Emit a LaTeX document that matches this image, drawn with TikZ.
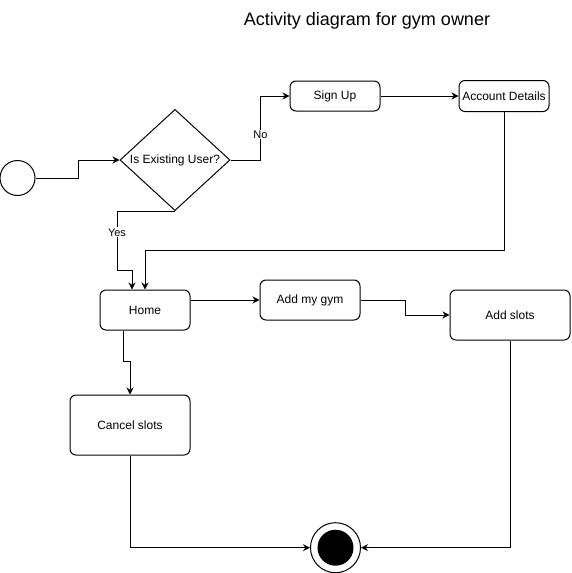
\documentclass[tikz,border=0pt]{standalone}
\usepackage{fontspec}
\setmainfont{Liberation Sans}
\usetikzlibrary{shapes.geometric,arrows.meta}
\begin{document}
\begin{tikzpicture}[x=1pt,y=1pt,
  every node/.style={font=\fontsize{12}{14}\selectfont},
  box/.style={draw,rounded corners=6pt,line width=1pt,inner sep=0pt,align=center},
  arr/.style={draw,line width=1pt,-{Stealth[length=7pt,width=7pt]}},
  lbl/.style={fill=white,inner sep=1pt,font=\fontsize{11}{13}\selectfont}]
\useasboundingbox (0,0) rectangle (571,-573);
\node[font=\fontsize{18}{21}\selectfont] (title) at (367,-21) {Activity diagram for gym owner};
\node[draw,circle,line width=1pt,minimum size=35pt,inner sep=0pt] (start) at (17.5,-178) {};
\node[draw,diamond,line width=1pt,inner sep=0pt,minimum width=110pt,minimum height=100pt] (dec) at (175,-160) {Is Existing User?};
\node[box,minimum width=90pt,minimum height=30pt] (signup) at (335,-96) {Sign Up};
\node[box,minimum width=90pt,minimum height=31pt] (acct) at (504,-96) {Account Details};
\node[box,minimum width=90pt,minimum height=40pt] (home) at (145,-310) {Home};
\node[box,minimum width=100pt,minimum height=40pt] (gym) at (310,-300) {Add my gym};
\node[box,minimum width=120pt,minimum height=50pt] (slots) at (510,-315) {Add slots};
\node[box,minimum width=120pt,minimum height=60pt] (cancel) at (130,-425) {Cancel slots};
\node[draw,circle,line width=1pt,minimum size=50pt,inner sep=0pt] (end) at (335.5,-547.7) {};
\node[circle,fill=black,minimum size=36pt,inner sep=0pt] (endin) at (end.center) {};

\draw[arr] (start.east) -- ++(43,0) |- (dec.west);
\draw[arr] (dec.east) -- ++(30,0) |- node[lbl,pos=0.2] (no) {No} (signup.west);
\draw[arr] (signup.east) -- (acct.west);
\draw[arr] (acct.south) -- ++(0,-138) -| (home.north);
\draw[arr] (dec.south) -| (117,-270) node[lbl,pos=0.68] (yes) {Yes} -| ([xshift=-13pt]home.north);
\draw[arr] (home.east |- gym.west) -- (gym.west);
\draw[arr] (gym.east) -- ++(45,0) |- (slots.west);
\draw[arr] ([xshift=-22pt]home.south) -- ++(0,-31) -| (cancel.north);
\draw[arr] (cancel.south) |- (end.west);
\draw[arr] (slots.south) |- (end.east);
\end{tikzpicture}
\end{document}
